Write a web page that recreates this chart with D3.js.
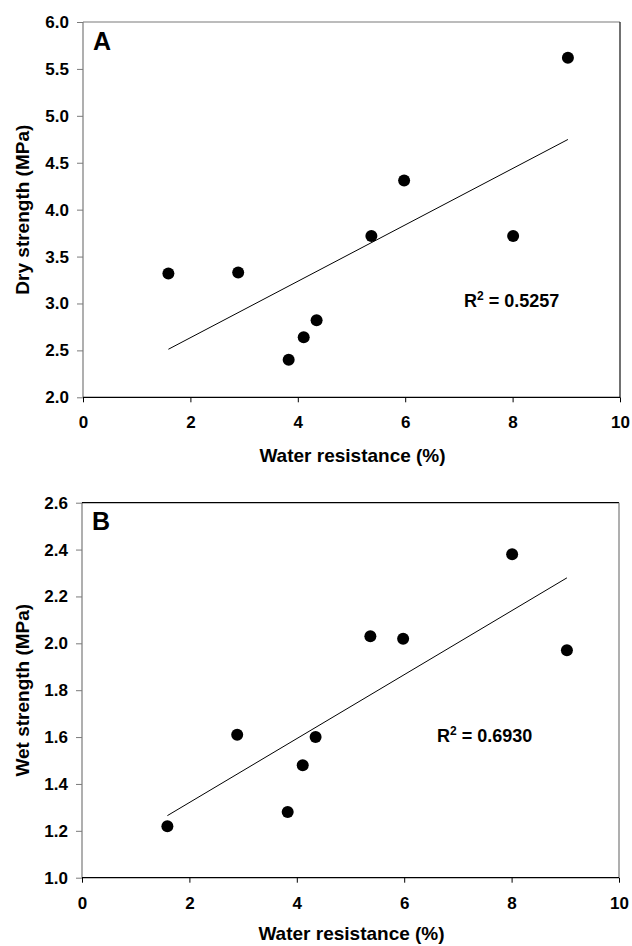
<!DOCTYPE html>
<html>
<head>
<meta charset="utf-8">
<script src="https://cdn.jsdelivr.net/npm/d3@7"></script>
<style>
    html, body { margin: 0; padding: 0; background: #fff; }
    svg { display: block; }
    text { font-family: "Liberation Sans", Arial, sans-serif; font-weight: bold; fill: #000; }
</style>
</head>
<body>
<div id="chart"></div>
<script>
(function () {
    'use strict';

    // values (same samples in both panels)
    var waterResistance = [1.59, 2.89, 3.83, 4.11, 4.35, 5.37, 5.98, 8.01, 9.03];
    var dryStrength = [3.32, 3.33, 2.40, 2.64, 2.82, 3.72, 4.31, 3.72, 5.62];
    var wetStrength = [1.22, 1.61, 1.28, 1.48, 1.60, 2.03, 2.02, 2.38, 1.97];

    var xTicks = [0, 2, 4, 6, 8, 10];
    var dryTicks = [2.0, 2.5, 3.0, 3.5, 4.0, 4.5, 5.0, 5.5, 6.0];
    var wetTicks = [1.0, 1.2, 1.4, 1.6, 1.8, 2.0, 2.2, 2.4, 2.6];

    var panelLabels = ["A", "B"];
    var yTitles = ["Dry strength (MPa)", "Wet strength (MPa)"];
    var xTitle = "Water resistance (%)";
    var rSquared = ["0.5257", "0.6930"];

    var width = 632, height = 946;

    var svg = d3.select("#chart").append("svg")
        .attr("width", width)
        .attr("height", height);

    var panels = [
        {
            label: panelLabels[0], yTitle: yTitles[0], r2: rSquared[0],
            ys: dryStrength, yDomain: [2, 6], yTicks: dryTicks,
            left: 83, right: 620, top: 22, bottom: 397.3,
            xTitleY: 461.5, r2X: 464, r2Y: 307,
            frame: { left: "#7a7a7a", top: "#7a7a7a", right: "#111", bottom: "#000" }
        },
        {
            label: panelLabels[1], yTitle: yTitles[1], r2: rSquared[1],
            ys: wetStrength, yDomain: [1, 2.6], yTicks: wetTicks,
            left: 82, right: 619, top: 502.7, bottom: 877.7,
            xTitleY: 940, r2X: 437, r2Y: 742,
            frame: { left: "#7a7a7a", top: "#000", right: "#7a7a7a", bottom: "#000" }
        }
    ];

    panels.forEach(drawPanel);

    function drawPanel(p) {
        var x = d3.scaleLinear().domain([0, 10]).range([p.left, p.right]);
        var y = d3.scaleLinear().domain(p.yDomain).range([p.bottom, p.top]);
        var g = svg.append("g");

        // x axis
        var xAxis = g.append("g")
            .attr("transform", "translate(0," + p.bottom + ")")
            .call(d3.axisBottom(x).tickValues(xTicks).tickSize(5).tickPadding(14).tickFormat(d3.format("d")));
        xAxis.attr("font-size", null).attr("font-family", null);
        xAxis.select(".domain").remove();
        xAxis.selectAll("line").attr("stroke", "#000");
        xAxis.selectAll("text").style("font-size", "17px");

        // y axis
        var yAxis = g.append("g")
            .attr("transform", "translate(" + p.left + ",0)")
            .call(d3.axisLeft(y).tickValues(p.yTicks).tickSize(6).tickPadding(8).tickFormat(d3.format(".1f")));
        yAxis.attr("font-size", null).attr("font-family", null);
        yAxis.select(".domain").remove();
        yAxis.selectAll("line").attr("stroke", "#7a7a7a");
        yAxis.selectAll("text").style("font-size", "17px");

        // frame
        var edges = [
            [p.left, p.top, p.left, p.bottom, p.frame.left],
            [p.left, p.top, p.right, p.top, p.frame.top],
            [p.right, p.top, p.right, p.bottom, p.frame.right],
            [p.left, p.bottom, p.right, p.bottom, p.frame.bottom]
        ];
        g.selectAll(".edge").data(edges).enter().append("line")
            .attr("class", "edge")
            .attr("x1", function (d) { return d[0]; })
            .attr("y1", function (d) { return d[1]; })
            .attr("x2", function (d) { return d[2]; })
            .attr("y2", function (d) { return d[3]; })
            .attr("stroke", function (d) { return d[4]; })
            .attr("stroke-width", 1.2);

        // least squares fit drawn over the data range
        var pts = waterResistance.map(function (v, i) { return [v, p.ys[i]]; });
        var mx = d3.mean(pts, function (d) { return d[0]; });
        var my = d3.mean(pts, function (d) { return d[1]; });
        var sxy = d3.sum(pts, function (d) { return (d[0] - mx) * (d[1] - my); });
        var sxx = d3.sum(pts, function (d) { return (d[0] - mx) * (d[0] - mx); });
        var slope = sxy / sxx, icpt = my - slope * mx;
        var ext = d3.extent(waterResistance);
        g.append("line")
            .attr("x1", x(ext[0])).attr("y1", y(icpt + slope * ext[0]))
            .attr("x2", x(ext[1])).attr("y2", y(icpt + slope * ext[1]))
            .attr("stroke", "#000")
            .attr("stroke-width", 1);

        g.selectAll(".dot").data(pts).enter().append("circle")
            .attr("class", "dot")
            .attr("cx", function (d) { return x(d[0]); })
            .attr("cy", function (d) { return y(d[1]); })
            .attr("r", 6)
            .attr("fill", "#000");

        // panel letter
        g.append("text")
            .attr("x", p.left + 10)
            .attr("y", p.top + 27.5)
            .attr("font-size", "25px")
            .text(p.label);

        // R squared
        var r2 = g.append("text")
            .attr("x", p.r2X)
            .attr("y", p.r2Y)
            .attr("font-size", "18px");
        r2.append("tspan").text("R");
        r2.append("tspan").attr("dy", -7).attr("font-size", "12px").text("2");
        r2.append("tspan").attr("dy", 7).text(" = " + p.r2);

        // axis titles
        g.append("text")
            .attr("x", (p.left + p.right) / 2 + 1)
            .attr("y", p.xTitleY)
            .attr("text-anchor", "middle")
            .attr("font-size", "19px")
            .text(xTitle);

        g.append("text")
            .attr("transform", "translate(29," + (p.top + p.bottom) / 2 + ") rotate(-90)")
            .attr("text-anchor", "middle")
            .attr("font-size", "19px")
            .text(p.yTitle);
    }
})();
</script>
</body>
</html>
